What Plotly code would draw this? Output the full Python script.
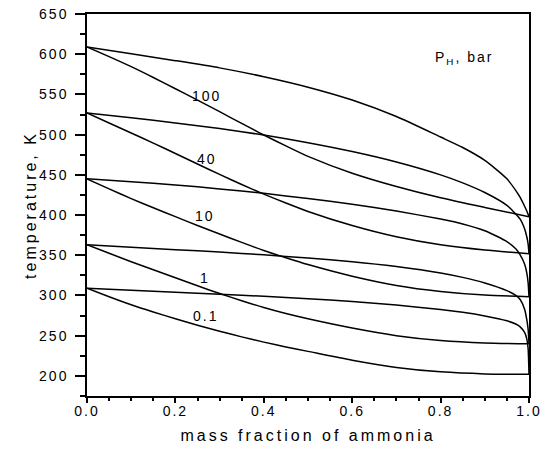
import plotly.graph_objects as go

# ---------------- data ----------------
# dew (vapour) curves, T in K vs mass fraction of ammonia
x_d100 = [0, 0.1, 0.2, 0.3, 0.4, 0.5, 0.6, 0.7, 0.8, 0.85, 0.9, 0.95, 0.98, 0.99, 0.995, 1.0]
t_d100 = [609, 600.5, 592, 583, 572, 559, 543, 522.5, 497, 484, 468, 445, 422, 411, 405, 398]

x_d40 = [0, 0.1, 0.2, 0.3, 0.4, 0.5, 0.6, 0.7, 0.8, 0.85, 0.9, 0.95, 0.98, 0.99, 0.995, 0.998, 1.0]
t_d40 = [527, 521, 514.5, 507.5, 499.5, 490, 479, 466, 450, 440, 428, 412, 395, 383, 373, 364, 352]

x_d10 = [0, 0.1, 0.2, 0.3, 0.4, 0.5, 0.6, 0.7, 0.8, 0.85, 0.9, 0.95, 0.97, 0.98, 0.99, 0.995, 0.998, 1.0]
t_d10 = [445, 441.5, 437.5, 432.5, 427, 420.5, 413.5, 405, 395, 389, 380.5, 367, 358, 350.5, 339, 328, 316, 298]

x_d1 = [0, 0.1, 0.2, 0.3, 0.4, 0.5, 0.6, 0.7, 0.8, 0.85, 0.9, 0.95, 0.97, 0.98, 0.99, 0.995, 0.998, 1.0]
t_d1 = [363, 360, 357, 354, 350.5, 346.5, 342, 336, 328, 322.5, 315.5, 306, 300, 295, 283, 270, 258, 240]

x_d01 = [0, 0.1, 0.2, 0.3, 0.4, 0.5, 0.6, 0.7, 0.8, 0.85, 0.9, 0.95, 0.97, 0.98, 0.99, 0.995, 0.998, 1.0]
t_d01 = [309, 306.5, 304, 301.5, 299, 296, 292.5, 288, 282.5, 279, 274.5, 268.5, 264.5, 261, 254, 246, 234, 202]

# bubble (liquid) curves
x_b100 = [0, 0.05, 0.1, 0.15, 0.2, 0.25, 0.3, 0.35, 0.4, 0.45, 0.5, 0.6, 0.7, 0.8, 0.9, 1.0]
t_b100 = [609, 597, 584.5, 571, 557, 543, 528.5, 514, 499.5, 486, 473, 452, 435.5, 421.5, 409.5, 398]

x_b40 = [0, 0.05, 0.1, 0.15, 0.2, 0.25, 0.3, 0.35, 0.4, 0.45, 0.5, 0.6, 0.7, 0.8, 0.9, 1.0]
t_b40 = [527, 514.5, 502, 489.5, 476.5, 463.5, 450.5, 438, 426, 415, 404.5, 387, 373, 363, 356.5, 352]

x_b10 = [0, 0.05, 0.1, 0.15, 0.2, 0.25, 0.3, 0.35, 0.4, 0.45, 0.5, 0.6, 0.7, 0.8, 0.9, 1.0]
t_b10 = [445, 432.5, 420.5, 409, 398, 387, 376.5, 366, 356, 347, 338.5, 324, 312.5, 305, 300.5, 298.5]

x_b1 = [0, 0.05, 0.1, 0.15, 0.2, 0.25, 0.3, 0.35, 0.4, 0.45, 0.5, 0.6, 0.7, 0.8, 0.9, 1.0]
t_b1 = [363, 352.5, 342, 332, 322, 312, 302.5, 293.5, 285, 277.5, 271, 259.5, 250, 244, 241, 240]

x_b01 = [0, 0.05, 0.1, 0.15, 0.2, 0.25, 0.3, 0.35, 0.4, 0.45, 0.5, 0.6, 0.7, 0.8, 0.9, 1.0]
t_b01 = [309, 298.5, 288.5, 279.5, 271, 263, 255.5, 248.5, 242, 236, 230.5, 219.5, 210.5, 205, 202.5, 202]

# curve labels (pressure, bar)
label_text = ["100", "40", "10", "1", "0.1"]
label_x = [0.2726, 0.271, 0.267, 0.267, 0.27]
label_y = [548.6, 469.6, 399.4, 321.7, 274.7]

x_ticks = [0.0, 0.2, 0.4, 0.6, 0.8, 1.0]
y_ticks = [200, 250, 300, 350, 400, 450, 500, 550, 600, 650]

# ---------------- figure ----------------
FONT = "Liberation Sans, Arial, sans-serif"
fig = go.Figure()

curves = [
    (x_d100, t_d100), (x_b100, t_b100),
    (x_d40, t_d40), (x_b40, t_b40),
    (x_d10, t_d10), (x_b10, t_b10),
    (x_d1, t_d1), (x_b1, t_b1),
    (x_d01, t_d01), (x_b01, t_b01),
]
for xs, ts in curves:
    fig.add_trace(go.Scatter(
        x=xs, y=ts, mode="lines",
        line=dict(color="black", width=1.5, shape="spline", smoothing=0.6),
        showlegend=False, hoverinfo="skip",
    ))

for txt, lx, ly in zip(label_text, label_x, label_y):
    fig.add_annotation(x=lx, y=ly, text=txt, showarrow=False,
                       xanchor="center", yanchor="middle",
                       font=dict(family=FONT, size=14, color="black"))

fig.add_annotation(x=0.855, y=595, text="P<sub>H</sub>, bar", showarrow=False,
                   xanchor="center", yanchor="middle",
                   font=dict(family=FONT, size=14, color="black"))

fig.update_layout(
    width=547, height=457,
    margin=dict(l=87, r=18, t=14, b=61),
    paper_bgcolor="white", plot_bgcolor="white",
    font=dict(family=FONT, size=14, color="black"),
    showlegend=False,
)
fig.update_xaxes(
    range=[0, 1], tickvals=x_ticks, ticktext=[f"{v:.1f}" for v in x_ticks],
    showgrid=False, zeroline=False, automargin=False,
    showline=True, linecolor="black", linewidth=1.5, mirror=True,
    ticks="outside", ticklen=5, tickwidth=1.5, tickcolor="black",
    minor=dict(dtick=0.05, tick0=0, ticks="outside", ticklen=3, tickwidth=1.5, tickcolor="black"),
    tickfont=dict(family=FONT, size=14),
    ticklabelstandoff=-4,
    title=dict(text="mass fraction of ammonia", font=dict(family=FONT, size=16), standoff=12),
)
fig.update_yaxes(
    range=[175, 650], tickvals=y_ticks,
    showgrid=False, zeroline=False, automargin=False,
    showline=True, linecolor="black", linewidth=1.5, mirror=True,
    ticks="outside", ticklen=10, tickwidth=1.5, tickcolor="black",
    minor=dict(dtick=25, tick0=0, ticks="outside", ticklen=5, tickwidth=1.5, tickcolor="black"),
    tickfont=dict(family=FONT, size=14),
    ticklabelstandoff=4,
    title=dict(text="temperature, K", font=dict(family=FONT, size=16), standoff=4),
)

# widen the glyph spacing of the texts, as in the reference
spacing_js = """
var gd = document.getElementsByClassName('plotly-graph-div')[0];
function sp(sel, v){ gd.querySelectorAll(sel).forEach(function(t){ t.style.letterSpacing = v; }); }
sp('.xtick text, .ytick text', '2px');
sp('.xtitle, .ytitle', '3px');
sp('.annotation-text', '2px');
"""
fig.write_html("out.html", post_script=spacing_js)
